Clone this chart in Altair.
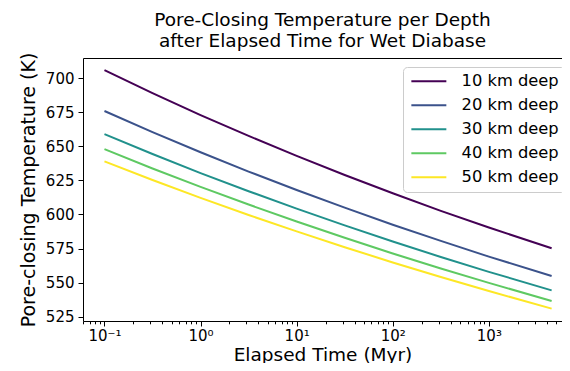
import altair as alt
import pandas as pd

# Elapsed time (Myr) sample points
times = [0.1, 0.3162, 1, 3.162, 10, 31.62, 100, 316.2, 1000, 4500]
depths = ["10 km deep", "20 km deep", "30 km deep", "40 km deep", "50 km deep"]
temp_10 = [706.0, 689.1, 673.0, 657.7, 643.0, 629.0, 615.6, 602.7, 590.4, 575.2]
temp_20 = [676.0, 660.5, 645.7, 631.5, 618.0, 605.0, 592.5, 580.6, 569.1, 554.8]
temp_30 = [659.0, 644.4, 630.4, 617.1, 604.3, 592.0, 580.2, 568.8, 557.9, 544.3]
temp_40 = [648.0, 633.8, 620.3, 607.3, 594.9, 582.9, 571.4, 560.4, 549.8, 536.5]
temp_50 = [639.0, 625.3, 612.2, 599.6, 587.6, 576.0, 564.8, 554.1, 543.8, 530.9]
colors = ["#440154", "#3b528b", "#21918c", "#5ec962", "#fde725"]

major_x = [0.1, 1, 10, 100, 1000]
minor_x = [0.06, 0.07, 0.08, 0.09,
           0.2, 0.3, 0.4, 0.5, 0.6, 0.7, 0.8, 0.9,
           2, 3, 4, 5, 6, 7, 8, 9,
           20, 30, 40, 50, 60, 70, 80, 90,
           200, 300, 400, 500, 600, 700, 800, 900,
           2000, 3000, 4000, 5000, 6000]
y_ticks = [525, 550, 575, 600, 625, 650, 675, 700]

series = [temp_10, temp_20, temp_30, temp_40, temp_50]
rows = []
for d, vals in zip(depths, series):
    for t, v in zip(times, vals):
        rows.append({"t": t, "T": v, "depth": d})
df = pd.DataFrame(rows)

FONT = "DejaVu Sans"
label_expr = ("datum.value == 0.1 ? '10\u207b\u00b9' : datum.value == 1 ? '10\u2070' : "
              "datum.value == 10 ? '10\u00b9' : datum.value == 100 ? '10\u00b2' : "
              "datum.value == 1000 ? '10\u00b3' : ''")
major_test = "datum.value == 0.1 || datum.value == 1 || datum.value == 10 || datum.value == 100 || datum.value == 1000"

W = 479
H = 263
x_scale = alt.Scale(type="log", domain=[0.0598, 10 ** (W / 96.1 - 1.2233)], nice=False)
y_scale = alt.Scale(domain=[521.8, 714.9], nice=False, zero=False)

lines = alt.Chart(df).mark_line(strokeWidth=2, clip=True).encode(
    x=alt.X("t:Q", scale=x_scale,
            axis=alt.Axis(values=sorted(major_x + minor_x), labelExpr=label_expr,
                          tickSize={"condition": {"test": major_test, "value": 5}, "value": 2.8},
                          labelOverlap=False, labelFlush=False,
                          title="Elapsed Time (Myr)", labelFontSize=15,
                          labelPadding=2, titleBaseline="alphabetic", titleFontSize=18.5,
                          titleY=39, grid=False, domain=True)),
    y=alt.Y("T:Q", scale=y_scale,
            axis=alt.Axis(values=y_ticks, title="Pore-closing Temperature (K)",
                          labelFontSize=15, tickSize=5, labelPadding=4,
                          titlePadding=7, grid=False, domain=True)),
    color=alt.Color("depth:N",
                    scale=alt.Scale(domain=depths, range=colors),
                    legend=alt.Legend(title=None, orient="none", legendX=320, legendY=9,
                                      symbolType="M-3,0L3,0", symbolSize=136,
                                      symbolStrokeWidth=2, symbolOffset=11.7,
                                      labelOffset=24.6, labelFontSize=16.3,
                                      labelFont=FONT, labelColor="#000000",
                                      rowPadding=7, padding=6,
                                      strokeColor="#cccccc", fillColor="#ffffff",
                                      cornerRadius=4)),
)

# top frame line drawn as a label-less top axis
top_frame = alt.Chart(df).mark_point(opacity=0).encode(
    x=alt.X("t:Q", scale=x_scale,
            axis=alt.Axis(orient="top", labels=False, ticks=False, title=None,
                          grid=False, domain=True, minExtent=0, maxExtent=0)),
    y=alt.Y("T:Q", scale=y_scale, axis=None),
)

chart = alt.layer(lines, top_frame).resolve_axis(x="independent", y="independent").properties(
    width=W, height=H,
    title=alt.Title(["Pore-Closing Temperature per Depth", "after Elapsed Time for Wet Diabase"],
                    fontSize=18.5, font=FONT, fontWeight="normal", color="#000000",
                    anchor="middle", offset=2, lineHeight=21),
    autosize=alt.AutoSizeParams(type="none"),
    padding={"left": 75, "top": 50, "right": 0, "bottom": 42},
).configure_view(
    strokeWidth=0
).configure_axis(
    labelFont=FONT, titleFont=FONT, labelColor="#000000", titleColor="#000000",
    titleFontSize=19, titleFontWeight="normal",
    domainColor="#000000", tickColor="#000000", tickWidth=1, domainWidth=1
)

chart.save("out.html", embed_options={"renderer": "svg", "actions": False})
